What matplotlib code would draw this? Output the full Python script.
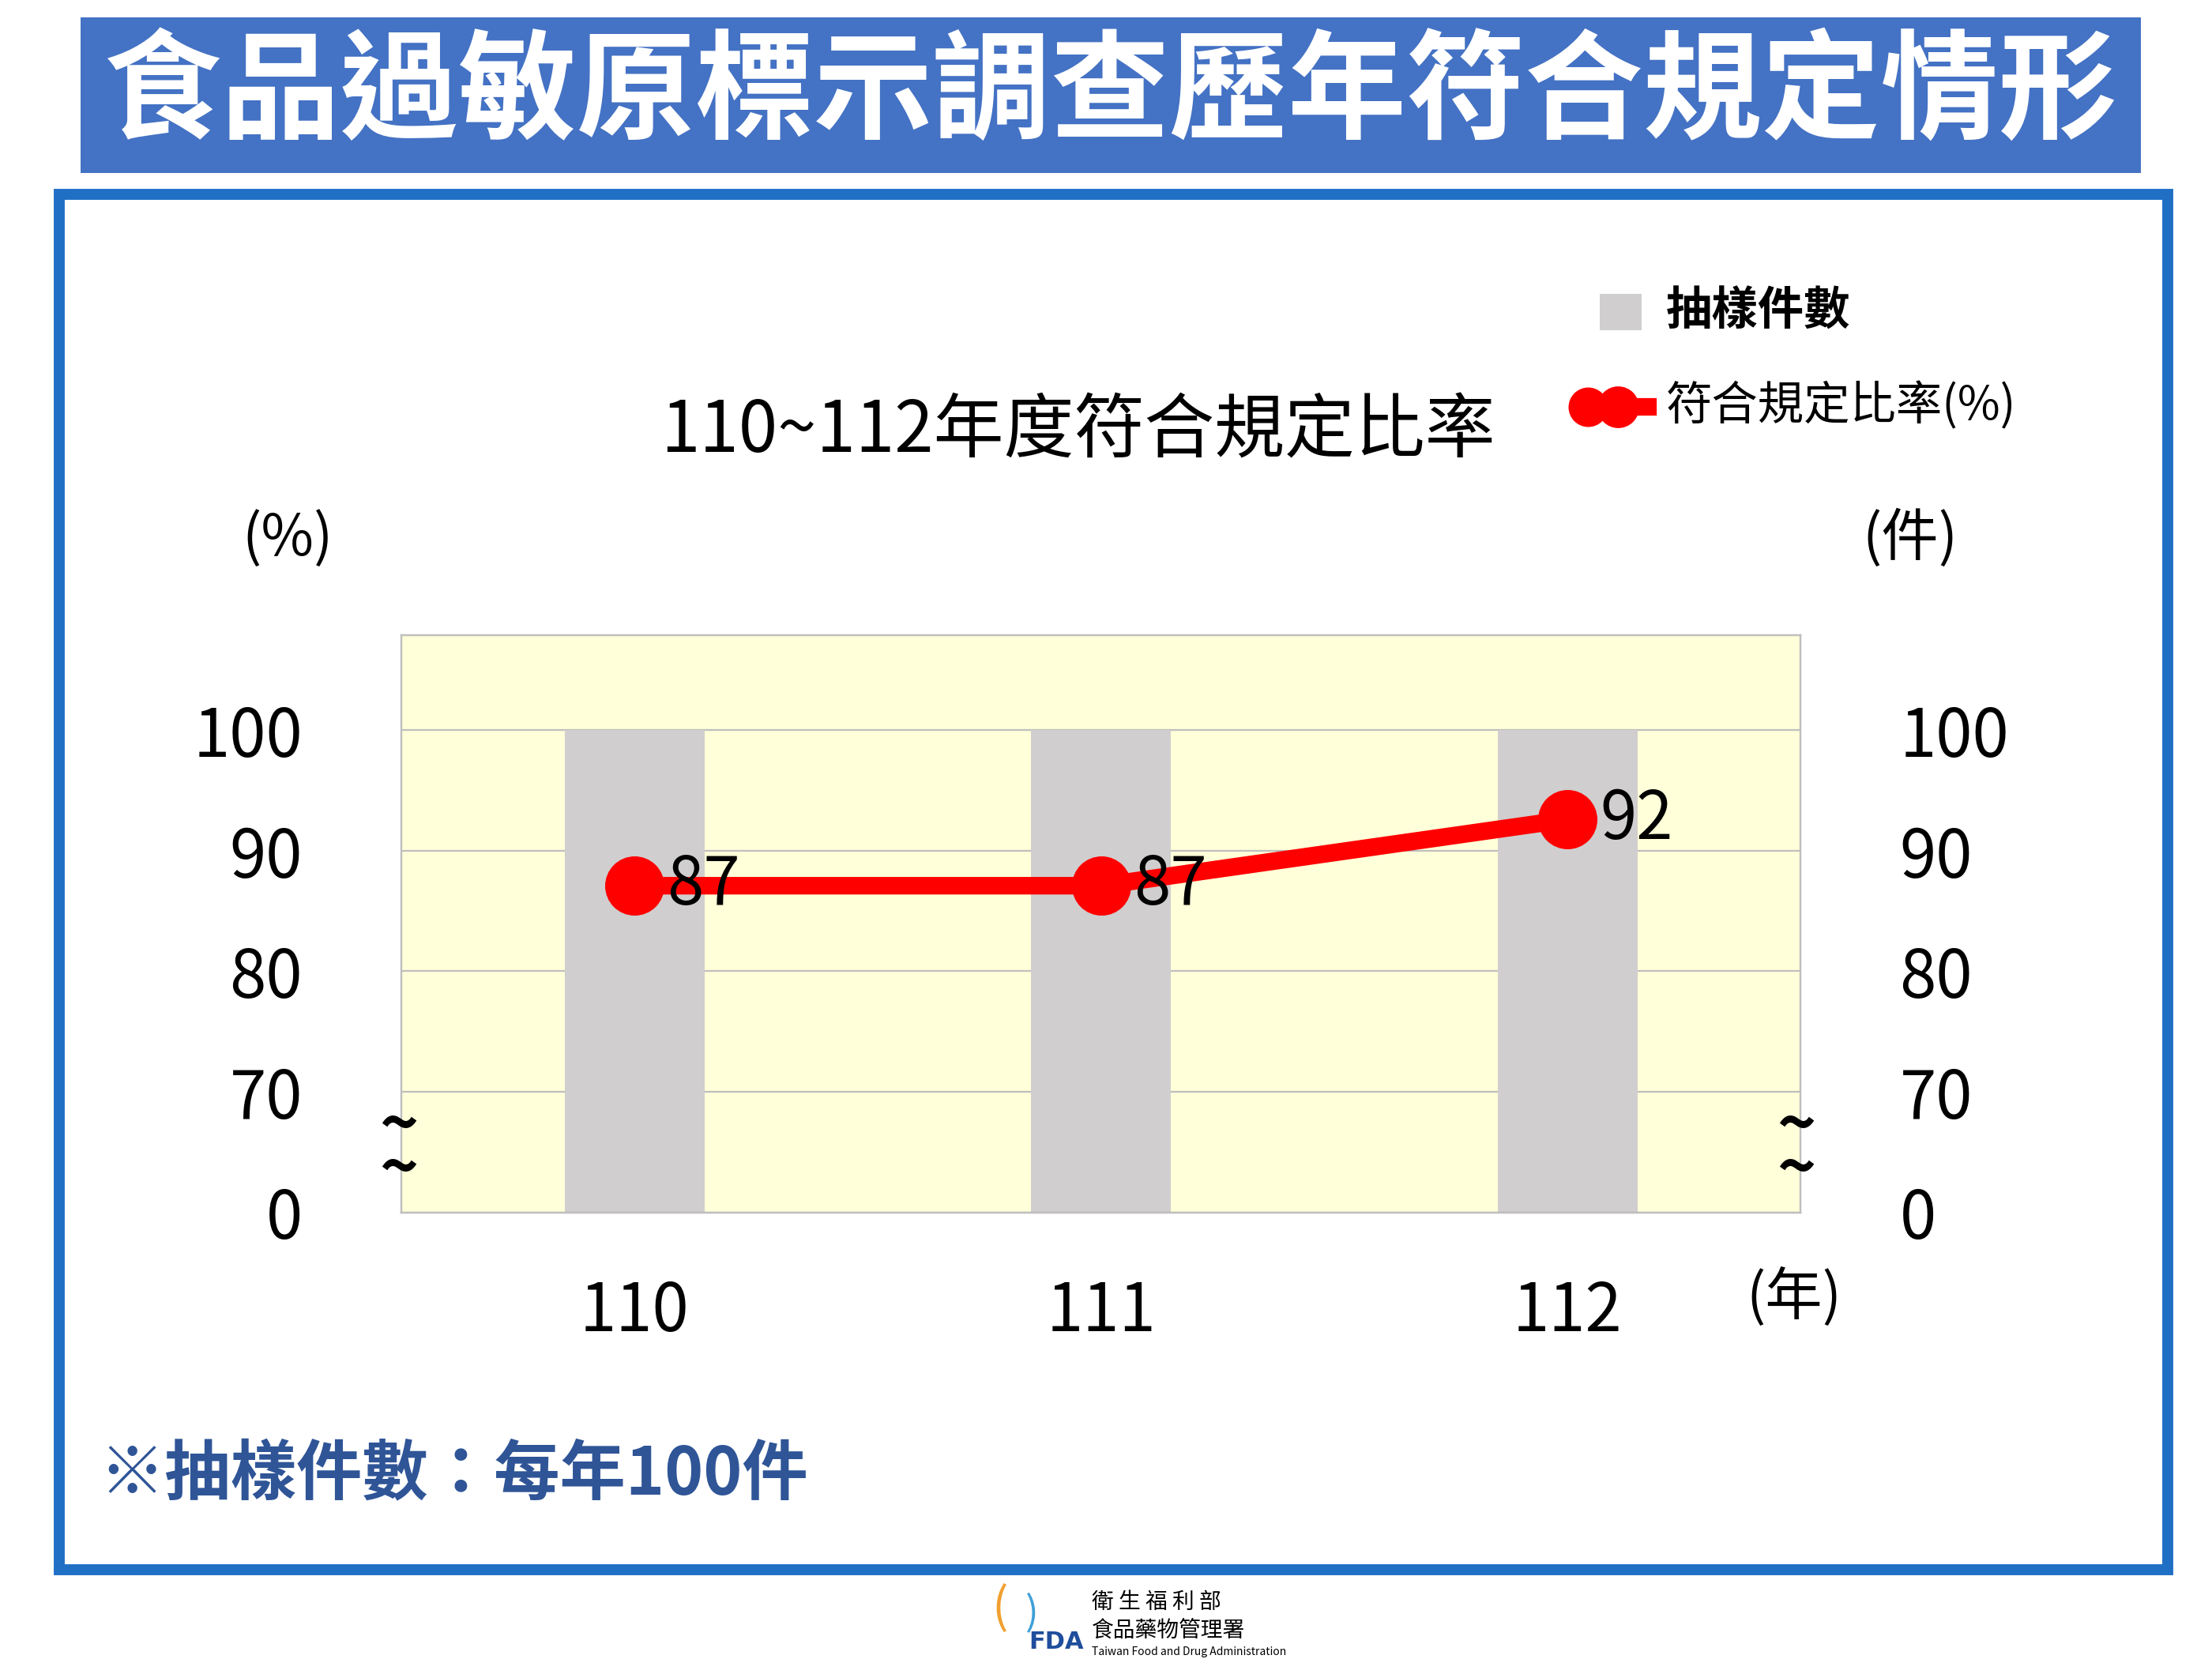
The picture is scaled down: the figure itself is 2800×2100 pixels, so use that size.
import matplotlib
matplotlib.use("Agg")
import matplotlib.pyplot as plt
from matplotlib.patches import Rectangle

plt.rcParams['font.family'] = ['Noto Sans CJK TC', 'DejaVu Sans']

years = ['110', '111', '112']
samples = [100, 100, 100]
rates = [87.1, 87.1, 92.6]
rate_labels = ['87', '87', '92']
ytick_vals = [60, 70, 80, 90, 100]   # 60 stands in for 0 below the axis break
ytick_text = ['0', '70', '80', '90', '100']

W, H = 1560.0, 1170.0
def fx(x): return x / W
def fy(y): return 1 - y / H

fig = plt.figure(figsize=(14, 10.5), dpi=200)
fig.patch.set_facecolor('white')

# title banner
fig.patches.append(Rectangle((fx(57), fy(122)), fx(1510) - fx(57), fy(12) - fy(122),
                             transform=fig.transFigure, facecolor='#4472C4', edgecolor='none'))
fig.text(fx(783), fy(67), '食品過敏原標示調查歷年符合規定情形', ha='center', va='center',
         color='white', fontsize=54, fontweight='bold')
# outer frame
fig.patches.append(Rectangle((fx(42), fy(1107)), fx(1529) - fx(42), fy(137) - fy(1107),
                             transform=fig.transFigure, facecolor='none', edgecolor='#1F6FC5',
                             linewidth=5))

ax = fig.add_axes([fx(283), fy(855), fx(1270) - fx(283), fy(448) - fy(855)])
ax.set_facecolor('#FFFFD9')
x = range(len(years))
ax.bar(x, samples, width=0.30, color='#D0CECE', zorder=2)
ax.plot(x, rates, color='#FF0000', linewidth=8, marker='o', markersize=26, zorder=3)
for xi, r, t in zip(x, rates, rate_labels):
    ax.text(xi + 0.07, r, t, fontsize=30, va='center', ha='left', zorder=4)
ax.set_xlim(-0.5, 2.5)
ax.set_ylim(60, 100 + 67 / 8.5)
for v in [70, 80, 90, 100]:
    ax.axhline(v, color='#BFBFBF', linewidth=0.8, zorder=1)
ax.set_yticks(ytick_vals)
ax.set_yticklabels(ytick_text, fontsize=30)
ax.tick_params(axis='y', length=0, pad=45)
ax.tick_params(axis='x', length=0, pad=30, labelsize=30)
ax.set_xticks(list(x))
ax.set_xticklabels(years)
ax2 = ax.twinx()
ax2.set_ylim(ax.get_ylim())
ax2.set_yticks(ytick_vals)
ax2.set_yticklabels(ytick_text, fontsize=30)
ax2.tick_params(axis='y', length=0, pad=45)
for a in (ax, ax2):
    for s in a.spines.values():
        s.set_color('#BFBFBF')
        s.set_linewidth(0.8)
ax.spines['bottom'].set_color('#808080')

# axis break marks
for bx in (281, 1267):
    fig.text(fx(bx), fy(810), '~\n~', ha='center', va='center', fontsize=30,
             fontweight='bold', linespacing=0.55)

fig.text(fx(760), fy(305), '110~112年度符合規定比率', ha='center', va='center', fontsize=32)
fig.text(fx(203), fy(380), '(%)', ha='center', va='center', fontsize=26)
fig.text(fx(1347), fy(380), '(件)', ha='center', va='center', fontsize=26)
fig.text(fx(1265), fy(915), '(年)', ha='center', va='center', fontsize=26)

# legend
fig.patches.append(Rectangle((fx(1128), fy(233)), fx(1158) - fx(1128), fy(207) - fy(233),
                             transform=fig.transFigure, facecolor='#D0CECE', edgecolor='none'))
fig.text(fx(1175), fy(220), '抽樣件數', ha='left', va='center', fontsize=21, fontweight='bold')
fig.lines.append(plt.Line2D([fx(1120), fx(1162)], [fy(287), fy(287)], transform=fig.transFigure,
                            color='#FF0000', linewidth=8, marker='o', markersize=18,
                            markevery=[0], markeredgewidth=0))
fig.lines.append(plt.Line2D([fx(1141)], [fy(287)], transform=fig.transFigure,
                            color='#FF0000', marker='o', markersize=18))
fig.text(fx(1175), fy(287), '符合規定比率(%)', ha='left', va='center', fontsize=21)

fig.text(fx(70), fy(1040), '※抽樣件數：每年100件', ha='left', va='center', fontsize=30,
         fontweight='bold', color='#2F5597')

# logo
fig.text(fx(745), fy(1158), 'FDA', ha='center', va='center', fontsize=11, fontweight='bold',
         color='#1F4E9C', family=['DejaVu Sans'])
fig.text(fx(770), fy(1130), '衛 生 福 利 部', ha='left', va='center', fontsize=10)
fig.text(fx(770), fy(1150), '食品藥物管理署', ha='left', va='center', fontsize=10)
fig.text(fx(770), fy(1165), 'Taiwan Food and Drug Administration', ha='left', va='center',
         fontsize=5)
fig.text(fx(705), fy(1135), '(', ha='center', va='center', fontsize=22, color='#F0A030')
fig.text(fx(728), fy(1138), ')', ha='center', va='center', fontsize=18, color='#3FA0D8')

fig.savefig('out.png', dpi=200)
